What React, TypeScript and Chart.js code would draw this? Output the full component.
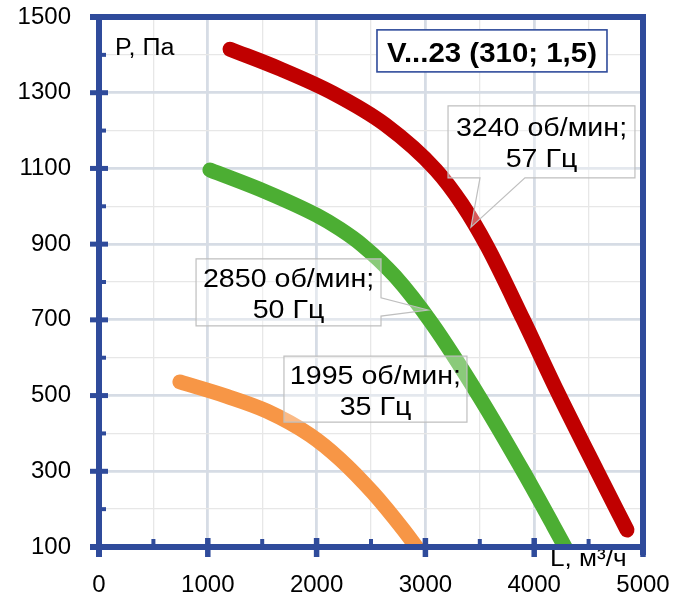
import React, { useEffect, useRef } from 'react';
import { Chart, registerables } from 'chart.js';

Chart.register(...registerables);

// ---- data ----
const redL = [1204, 1664, 2151, 2629, 3097, 3336, 3566, 3897, 4210, 4577, 4853];
const redP = [1415, 1363, 1299, 1216, 1096, 1006, 895, 702, 512, 301, 145];

const greenL = [1020, 1544, 2004, 2215, 2417, 2721, 3061, 3493, 3906, 4173, 4292];
const greenP = [1096, 1037, 976, 940, 898, 815, 690, 498, 296, 158, 95];

const orangeL = [744, 1176, 1544, 1939, 2215, 2518, 2794, 2932];
const orangeP = [536, 498, 459, 396, 332, 243, 147, 94];

const xLabelValues = [0, 1000, 2000, 3000, 4000, 5000];
const yLabelValues = [100, 300, 500, 700, 900, 1100, 1300, 1500];

const titleText = 'V...23 (310; 1,5)';
const yAxisTitle = 'P, Па';
const xAxisTitle = 'L, м³/ч';
const redLabel = ['3240 об/мин;', '57 Гц'];
const greenLabel = ['2850 об/мин;', '50 Гц'];
const orangeLabel = ['1995 об/мин;', '35 Гц'];

const FONT = "'Liberation Sans', Arial, sans-serif";
const FRAME = '#2F4B9B';

function drawText(ctx: CanvasRenderingContext2D, text: string, x: number, y: number, font: string, align: CanvasTextAlign, sx: number) {
  ctx.save();
  ctx.font = font;
  ctx.textAlign = align;
  ctx.textBaseline = 'alphabetic';
  ctx.fillStyle = '#000';
  ctx.translate(x, y);
  ctx.scale(sx, 1);
  ctx.fillText(text, 0, 0);
  ctx.restore();
}

const overlayPlugin = {
  id: 'overlay',
  afterDraw(chart: any) {
    const ctx: CanvasRenderingContext2D = chart.ctx;
    const xs = chart.scales.x;
    const ys = chart.scales.y;
    const px = (v: number) => xs.getPixelForValue(v);
    const py = (v: number) => ys.getPixelForValue(v);
    const area = chart.chartArea;

    const callout = (l: number, r: number, t: number, b: number, lines: string[], pointer?: (ctx: CanvasRenderingContext2D) => void) => {
      const L = px(l), R = px(r), T = py(t), B = py(b);
      ctx.save();
      ctx.beginPath();
      if (pointer) {
        pointer(ctx);
      } else {
        ctx.rect(L, T, R - L, B - T);
      }
      ctx.fillStyle = 'rgba(255,255,255,0.35)';
      ctx.fill();
      ctx.strokeStyle = '#BFBFBF';
      ctx.lineWidth = 1.2;
      ctx.stroke();
      ctx.restore();
      const cx = (L + R) / 2;
      const cy = (T + B) / 2;
      drawText(ctx, lines[0], cx, cy - 15.5 + 10, `26px ${FONT}`, 'center', 1.1);
      drawText(ctx, lines[1], cx, cy + 15.5 + 10, `26px ${FONT}`, 'center', 1.1);
    };

    callout(3208, 4926, 1265, 1075, redLabel, (c) => {
      const L = px(3208), R = px(4926), T = py(1265), B = py(1075);
      c.moveTo(L, T);
      c.lineTo(R, T);
      c.lineTo(R, B);
      c.lineTo(px(3915), B);
      c.lineTo(px(3419), py(945));
      c.lineTo(px(3502), B);
      c.lineTo(L, B);
      c.closePath();
    });

    callout(892, 2592, 861, 684, greenLabel, (c) => {
      const L = px(892), R = px(2592), T = py(861), B = py(684);
      c.moveTo(L, T);
      c.lineTo(R, T);
      c.lineTo(R, py(758));
      c.lineTo(px(3024), py(726));
      c.lineTo(R, py(710));
      c.lineTo(R, B);
      c.lineTo(L, B);
      c.closePath();
    });

    callout(1700, 3382, 604, 430, orangeLabel);

    {
      const L = px(2555), R = px(4669), T = py(1466), B = py(1355);
      ctx.save();
      ctx.fillStyle = '#fff';
      ctx.fillRect(L, T, R - L, B - T);
      ctx.strokeStyle = FRAME;
      ctx.lineWidth = 1.6;
      ctx.strokeRect(L, T, R - L, B - T);
      ctx.restore();
      drawText(ctx, titleText, (L + R) / 2, (T + B) / 2 + 11, `bold 27px ${FONT}`, 'center', 1.09);
    }

    drawText(ctx, yAxisTitle, px(147), py(1400), `23px ${FONT}`, 'left', 1.09);
    drawText(ctx, xAxisTitle, px(4145), area.bottom + 19, `24px ${FONT}`, 'left', 1.09);

    ctx.save();
    ctx.strokeStyle = FRAME;
    ctx.lineCap = 'butt';
    ctx.lineWidth = 6;
    const left = area.left, right = area.right, top = area.top, bottom = area.bottom;
    ctx.beginPath();
    ctx.moveTo(left, top - 3);
    ctx.lineTo(left, bottom + 10);
    ctx.moveTo(right, top - 3);
    ctx.lineTo(right, bottom + 8);
    ctx.moveTo(left - 9, top);
    ctx.lineTo(right + 3, top);
    ctx.moveTo(left - 9, bottom);
    ctx.lineTo(right + 3, bottom);
    ctx.stroke();

    for (let v = 100; v <= 1500; v += 100) {
      const y = py(v);
      ctx.beginPath();
      if (yLabelValues.includes(v)) {
        ctx.lineWidth = 5;
        ctx.moveTo(left - 9, y);
        ctx.lineTo(left + 9, y);
      } else {
        ctx.lineWidth = 4;
        ctx.moveTo(left, y);
        ctx.lineTo(left + 7, y);
      }
      ctx.stroke();
    }
    for (let v = 0; v <= 5000; v += 500) {
      const x = px(v);
      ctx.beginPath();
      if (xLabelValues.includes(v)) {
        ctx.lineWidth = 5.5;
        ctx.moveTo(x, bottom - 9);
        ctx.lineTo(x, bottom + 10);
      } else {
        ctx.lineWidth = 4;
        ctx.moveTo(x, bottom);
        ctx.lineTo(x, bottom - 8);
      }
      ctx.stroke();
    }
    ctx.restore();
  },
};

function series(L: number[], P: number[]) {
  return L.map((x, i) => ({ x, y: P[i] }));
}

export default function App() {
  const ref = useRef<HTMLCanvasElement>(null);
  useEffect(() => {
    document.body.style.margin = '0';
    document.body.style.overflow = 'hidden';
    const common = {
      showLine: true,
      borderWidth: 15,
      pointRadius: 0,
      pointHoverRadius: 0,
      borderCapStyle: 'round',
      borderJoinStyle: 'round',
      cubicInterpolationMode: 'monotone',
      clip: 0,
    };
    const chart = new Chart(ref.current!, {
      type: 'scatter',
      data: {
        datasets: [
          { ...common, data: series(orangeL, orangeP), borderColor: '#F79646' },
          { ...common, data: series(greenL, greenP), borderColor: '#4CAE33' },
          { ...common, data: series(redL, redP), borderColor: '#C00000' },
        ] as any,
      },
      options: {
        animation: false,
        responsive: false,
        devicePixelRatio: 1,
        events: [],
        layout: { padding: { top: 17, right: 47, left: 0, bottom: 0 } },
        plugins: { legend: { display: false }, tooltip: { enabled: false } },
        scales: {
          x: {
            type: 'linear',
            min: 0,
            max: 5000,
            border: { display: false },
            afterFit: (s: any) => { s.height = 52; s.paddingLeft = 0; s.paddingRight = 0; },
            grid: {
              drawTicks: false,
              color: (c: any) => (c.tick && xLabelValues.includes(c.tick.value) ? '#D6DCE5' : '#E7E7E7'),
              lineWidth: (c: any) => (c.tick && xLabelValues.includes(c.tick.value) ? 2.8 : 1.3),
            },
            ticks: {
              stepSize: 500,
              autoSkip: false,
              maxRotation: 0,
              padding: 24,
              color: '#000',
              font: { family: FONT, size: 24 },
              callback: (v: any) => (xLabelValues.includes(Number(v)) ? String(v) : ''),
            },
          },
          y: {
            type: 'linear',
            min: 100,
            max: 1500,
            border: { display: false },
            afterFit: (s: any) => { s.width = 99; s.paddingTop = 0; s.paddingBottom = 0; },
            grid: {
              drawTicks: false,
              color: (c: any) => (c.tick && yLabelValues.includes(c.tick.value) ? '#D6DCE5' : '#E7E7E7'),
              lineWidth: (c: any) => (c.tick && yLabelValues.includes(c.tick.value) ? 2.8 : 1.3),
            },
            ticks: {
              stepSize: 100,
              autoSkip: false,
              padding: 28,
              color: '#000',
              font: { family: FONT, size: 24 },
              callback: (v: any) => (yLabelValues.includes(Number(v)) ? String(v) : ''),
            },
          },
        },
      } as any,
      plugins: [overlayPlugin],
    });
    return () => chart.destroy();
  }, []);
  return <canvas ref={ref} width={690} height={599} style={{ display: 'block' }} />;
}
